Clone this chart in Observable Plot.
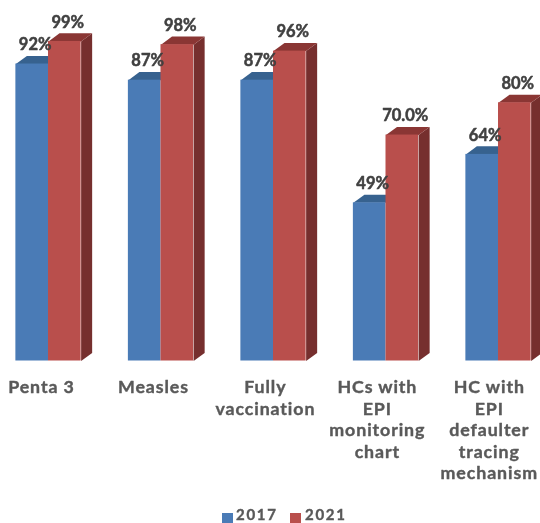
<!DOCTYPE html>
<html>
<head>
<meta charset="utf-8">
<script src="https://cdn.jsdelivr.net/npm/d3@7"></script>
<script src="https://cdn.jsdelivr.net/npm/@observablehq/plot@0.6"></script>
<style>
html,body{margin:0;padding:0;background:#fff;width:540px;height:523px;overflow:hidden}
svg{display:block;filter:blur(.35px)}
.cat text{letter-spacing:.9px}
#legend{position:relative;height:18px;font:700 15px Lato,sans-serif;letter-spacing:1.7px;color:#595959;-webkit-text-stroke:.4px #595959;filter:blur(.3px)}
#legend i{position:absolute;width:11px;height:10px}
#legend span{position:absolute;line-height:14px}
</style>
</head>
<body>
<div id="chart"></div>
<div id="legend"></div>
<script>
const categories = ["Penta 3","Measles","Fully\nvaccination","HCs with\nEPI\nmonitoring\nchart","HC with\nEPI\ndefaulter\ntracing\nmechanism"];
const values2017 = [92,87,87,49,64];
const values2021 = [99,98,96,70,80];
const labels2017 = ["92%","87%","87%","49%","64%"];
const labels2021 = ["99%","98%","96%","70.0%","80%"];
const years = ["2017","2021"];

// 3D depth expressed in data units
const bw = 0.29, dxU = 0.098, dyU = 2.5;
const idx = categories.map((_, i) => i);
const box = (i, v, k) => {
  const l = i - bw + k * bw, r = l + bw;
  return {l, r, v};
};
const boxes = k => idx.map(i => box(i, (k ? values2021 : values2017)[i], k));
const topPts = k => boxes(k).flatMap((b, i) => [
  {i, x: b.l, y: b.v}, {i, x: b.l + dxU, y: b.v + dyU},
  {i, x: b.r + dxU, y: b.v + dyU}, {i, x: b.r, y: b.v}]);
const sidePts = k => boxes(k).flatMap((b, i) => [
  {i, x: b.r, y: 0}, {i, x: b.r + dxU, y: dyU},
  {i, x: b.r + dxU, y: b.v + dyU}, {i, x: b.r, y: b.v}]);
const face = (pts, fill) => Plot.line(pts, {x: "x", y: "y", z: "i", fill, stroke: "none", curve: "linear"});
const front = (k, fill) => Plot.rectY(boxes(k), {x1: "l", x2: "r", y1: 0, y2: "v", fill, inset: 0});
const valueText = (k, lab) => Plot.text(boxes(k), {
  x: d => (d.l + d.r) / 2, y: "v", text: (d, i) => lab[i], dx: 3, dy: -19,
  fontFamily: "Lato, sans-serif", fontWeight: 700, fontSize: 16.5, fill: "#404040",
  stroke: "#404040", strokeWidth: 0.5
});

const chart = Plot.plot({
  width: 540, height: 505, margin: 0,
  x: {type: "linear", domain: [0, 4], range: [48, 498], axis: null},
  y: {domain: [0, 100], range: [360.5, 37.7], axis: null},
  marks: [
    face(topPts(0), "#37628f"),
    front(0, "#4a7bb6"),
    face(sidePts(1), "#762f2e"),
    face(topPts(1), "#8a3634"),
    front(1, "#b94f4c"),
    valueText(0, labels2017),
    valueText(1, labels2021),
    Plot.text(categories, {
      x: (d, i) => i * 0.995, y: 0, text: d => d, dx: -7, dy: 17, lineAnchor: "top", lineHeight: 1.21,
      fontFamily: "Lato, sans-serif", fontWeight: 700, fontSize: 17.8, fill: "#595959",
      stroke: "#595959", strokeWidth: 0.4, className: "cat"
    })
  ]
});
document.getElementById("chart").append(chart);

const lg = document.getElementById("legend");
const colors = ["#4a7bb6", "#b94f4c"];
const swatchX = [222, 290], textX = [236, 305];
years.forEach((y, i) => {
  const s = document.createElement("i");
  s.style.left = swatchX[i] + "px"; s.style.top = "8px"; s.style.background = colors[i];
  const t = document.createElement("span");
  t.style.left = textX[i] + "px"; t.style.top = "2px"; t.textContent = y;
  lg.append(s, t);
});
</script>
</body>
</html>
